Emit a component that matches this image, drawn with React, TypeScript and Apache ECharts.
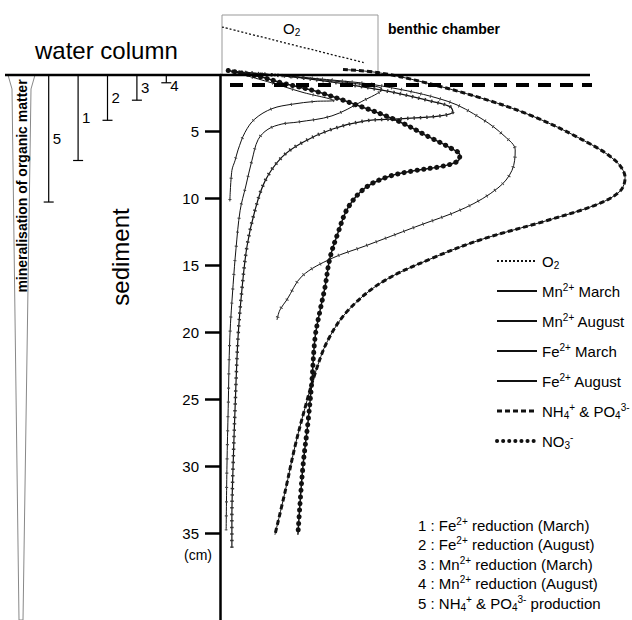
import React, { useEffect, useRef } from "react";
import * as echarts from "echarts";

const FONT = '"Liberation Sans", Arial, Helvetica, sans-serif';

// depth axis (cm, downward)
const depthTicks = [5, 10, 15, 20, 25, 30, 35];
const DEPTH_MIN = 0.82;
const DEPTH_MAX = 41.49;

// process zones drawn on the left: label and lower depth limit (cm)
const processLabels = ["5", "1", "2", "3", "4"];
const processDepths = [10.3, 7.2, 4.2, 2.7, 1.4];

// profiles: relative concentration (x) vs depth in cm (y)
const o2Conc = [0.5, 35.4];
const o2Depth = [-2.76, -0.08];

const mnMarchConc = [2.9, 12.2, 20.0, 27.6, 23.2, 17.6, 12.7, 8.5, 6.1, 4.4, 3.7, 2.9, 2.4];
const mnMarchDepth = [0.56, 1.37, 2.1, 2.72, 2.79, 3.0, 3.33, 4.1, 5.1, 6.41, 7.18, 7.95, 10.25];

const mnAugConc = [2.9, 15.1, 27.3, 35.4, 39.5, 34.6, 27.3, 19.0, 15.1, 11.7, 9.3, 7.8, 6.3, 4.9, 3.9, 3.2, 2.4, 2.0, 1.7, 1.5];
const mnAugDepth = [0.56, 0.87, 1.25, 1.56, 1.87, 2.79, 3.87, 4.33, 4.48, 4.87, 5.64, 7.18, 9.1, 10.95, 13.79, 16.47, 20.38, 25.7, 29.93, 34.8];

const feMarchConc = [2.9, 26.8, 39.5, 55.6, 63.9, 69.5, 72.0, 71.2, 67.8, 59.8, 47.6, 35.4, 27.3, 20.0, 16.3, 14.6, 13.9];
const feMarchDepth = [0.56, 1.18, 1.64, 2.79, 4.1, 5.41, 6.41, 7.95, 9.25, 10.73, 12.16, 13.58, 14.5, 15.83, 17.6, 18.36, 19.1];

const feAugConc = [2.9, 19.5, 39.5, 51.7, 56.1, 56.8, 53.7, 43.4, 35.4, 27.3, 20.0, 15.1, 11.0, 8.5, 6.6, 5.4, 4.4, 3.7, 3.2, 2.9, 2.9];
const feAugDepth = [0.56, 1.02, 1.95, 2.79, 3.18, 3.56, 3.87, 4.1, 4.25, 4.87, 5.87, 6.95, 8.72, 10.95, 13.58, 16.67, 20.38, 25.49, 29.93, 33.83, 36.1];

const nh4Conc = [30.0, 38.5, 49.3, 63.9, 76.1, 88.3, 96.3, 98.8, 97.6, 92.2, 80.0, 63.9, 51.7, 39.5, 31.2, 26.3, 23.2, 20.7, 18.3, 15.9, 13.4];
const nh4Depth = [0.41, 0.64, 1.33, 2.56, 3.87, 5.64, 7.18, 8.48, 9.48, 10.45, 11.66, 13.08, 14.5, 16.28, 18.4, 20.62, 23.08, 25.7, 28.52, 31.88, 35.13];

const no3Conc = [2.0, 9.8, 15.1, 23.2, 33.7, 43.4, 51.2, 56.1, 58.5, 58.0, 54.1, 47.6, 41.0, 35.4, 31.2, 28.8, 26.8, 25.6, 24.4, 23.2, 22.4, 21.5, 20.2, 19.0];
const no3Depth = [0.49, 0.95, 1.41, 2.02, 3.1, 4.25, 5.48, 6.25, 6.79, 7.25, 7.64, 7.95, 8.41, 9.25, 10.73, 12.58, 14.5, 16.67, 18.4, 20.38, 23.69, 26.62, 30.13, 35.13];

const legendNames = ["O2", "Mn2+ March", "Mn2+ August", "Fe2+ March", "Fe2+ August", "NH4+ & PO43-", "NO3-"];
const legendRich: Record<string, string> = {
  "O2": "O{sub|2}",
  "Mn2+ March": "Mn{sup|2+} March",
  "Mn2+ August": "Mn{sup|2+} August",
  "Fe2+ March": "Fe{sup|2+} March",
  "Fe2+ August": "Fe{sup|2+} August",
  "NH4+ & PO43-": "NH{sub|4}{sup|+} & PO{sub|4}{sup|3-}",
  "NO3-": "NO{sub|3}{sup|-}",
};

const noteLines = [
  "1 : Fe{sup|2+} reduction (March)",
  "2 : Fe{sup|2+} reduction (August)",
  "3 : Mn{sup|2+} reduction (March)",
  "4 : Mn{sup|2+} reduction (August)",
  "5 : NH{sub|4}{sup|+} & PO{sub|4}{sup|3-} production",
];

const pairs = (c: number[], d: number[]) => c.map((v, i) => [v, d[i]]);

const rich = {
  sup: { fontSize: 10, lineHeight: 10, verticalAlign: "top", fontFamily: FONT, fill: "#000", color: "#000" },
  sub: { fontSize: 10, lineHeight: 10, verticalAlign: "bottom", fontFamily: FONT, fill: "#000", color: "#000" },
};

function line(name: string, data: number[][], lineStyle: any) {
  return {
    type: "line",
    name,
    data,
    smooth: 0.35,
    symbol: "none",
    clip: false,
    silent: true,
    xAxisIndex: 0,
    yAxisIndex: 0,
    color: "#111",
    itemStyle: { color: "#111" },
    lineStyle: { color: "#111", width: 1, ...lineStyle },
  };
}

export default function App() {
  const ref = useRef<HTMLDivElement>(null);
  useEffect(() => {
    document.body.style.margin = "0";
    if (!ref.current) return;
    const chart = echarts.init(ref.current, null, { renderer: "svg" });

    const mnMarch = pairs(mnMarchConc, mnMarchDepth);
    const mnAug = pairs(mnAugConc, mnAugDepth);
    const feMarch = pairs(feMarchConc, feMarchDepth);
    const feAug = pairs(feAugConc, feAugDepth);
    const nh4 = pairs(nh4Conc, nh4Depth);
    const no3 = pairs(no3Conc, no3Depth);

    const noteY0 = 525;
    const noteGap = 19.5;

    chart.setOption({
      animation: false,
      backgroundColor: "#fff",
      grid: [
        { left: 220, top: 75, width: 410, height: 545 },
        { left: 34, top: 75, width: 147, height: 545 },
      ],
      xAxis: [
        { type: "value", gridIndex: 0, min: 0, max: 100, show: false },
        { type: "category", gridIndex: 1, data: processLabels, show: false },
      ],
      yAxis: [
        {
          type: "value",
          gridIndex: 0,
          inverse: true,
          min: DEPTH_MIN,
          max: DEPTH_MAX,
          axisLine: { show: true, onZero: false, lineStyle: { color: "#000", width: 2.5 } },
          axisTick: { show: true, length: 15, customValues: depthTicks, lineStyle: { color: "#000", width: 2.5 } },
          axisLabel: {
            show: true,
            customValues: depthTicks,
            margin: 21,
            fontSize: 15,
            fontFamily: FONT,
            color: "#000",
            formatter: (v: number) => (depthTicks.indexOf(v) >= 0 ? String(v) : ""),
          },
          splitLine: { show: false },
        },
        { type: "value", gridIndex: 1, inverse: true, min: DEPTH_MIN, max: DEPTH_MAX, show: false },
      ],
      legend: {
        orient: "vertical",
        left: 490,
        top: 247,
        itemWidth: 40,
        itemHeight: 10,
        itemGap: 12,
        data: legendNames.map((n) =>
          n === "NO3-"
            ? { name: n, lineStyle: { width: 4, type: [0.1, 6], cap: "round", color: "#111" } }
            : n === "NH4+ & PO43-"
            ? { name: n, lineStyle: { width: 3, type: [5, 3], color: "#111" } }
            : { name: n }
        ),
        itemStyle: { opacity: 0 },
        formatter: (n: string) => legendRich[n] || n,
        textStyle: { fontSize: 15, lineHeight: 18, fontFamily: FONT, color: "#000", rich },
        selectedMode: false,
      },
      series: [
        line("O2", pairs(o2Conc, o2Depth), { type: [2, 2], width: 1.3 }),
        line("Mn2+ March", mnMarch, { width: 1 }),
        line("_mnMarchTicks", mnMarch, { width: 3, type: [1, 20], color: "#444" }),
        line("Mn2+ August", mnAug, { width: 1 }),
        line("_mnAugTicks", mnAug, { width: 3, type: [1.2, 13], color: "#444" }),
        line("Fe2+ March", feMarch, { width: 1 }),
        line("_feMarchTicks", feMarch, { width: 3.5, type: [1, 9], color: "#444" }),
        line("Fe2+ August", feAug, { width: 1.2 }),
        line("_feAugTicks", feAug, { width: 3.5, type: [1.5, 5], color: "#333" }),
        line("_nh4Base", nh4, { width: 1 }),
        line("NH4+ & PO43-", nh4, { width: 3, type: [5, 3], color: "#111" }),
        line("_no3Base", no3, { width: 1.5 }),
        line("NO3-", no3, { width: 5, type: [0.1, 6.5], cap: "round", color: "#111" }),
        {
          type: "custom",
          name: "processes",
          xAxisIndex: 1,
          yAxisIndex: 1,
          silent: true,
          data: processDepths.map((d, i) => [i, d]),
          renderItem: (params: any, api: any) => {
            const idx = api.value(0);
            const bottom = api.coord([idx, api.value(1)]);
            const top = api.coord([idx, DEPTH_MIN]);
            const x = bottom[0];
            const labelY = Math.max((top[1] + bottom[1]) / 2, top[1] + 10);
            return {
              type: "group",
              children: [
                { type: "line", shape: { x1: x, y1: top[1], x2: x, y2: bottom[1] }, style: { stroke: "#000", lineWidth: 1.2 } },
                { type: "line", shape: { x1: x - 5, y1: bottom[1], x2: x + 5, y2: bottom[1] }, style: { stroke: "#000", lineWidth: 1.2 } },
                {
                  type: "text",
                  x: x + 4,
                  y: labelY,
                  style: { text: processLabels[params.dataIndex], fontSize: 15, fontFamily: FONT, fill: "#000", align: "left", verticalAlign: "middle" },
                },
              ],
            };
          },
        },
      ],
      graphic: [
        { type: "line", z: 10, shape: { x1: 5, y1: 75, x2: 590, y2: 75 }, style: { stroke: "#000", lineWidth: 2.5 } },
        { type: "line", z: 10, shape: { x1: 230, y1: 85, x2: 592, y2: 85 }, style: { stroke: "#000", lineWidth: 4, lineDash: [13, 9] } },
        { type: "rect", shape: { x: 222, y: 15, width: 156, height: 60 }, style: { fill: "none", stroke: "#999", lineWidth: 1 } },
        {
          type: "text", x: 283, y: 28,
          style: { text: "O{sub|2}", fontSize: 15, fontFamily: FONT, fill: "#000", align: "left", verticalAlign: "middle", lineHeight: 18, rich },
        },
        {
          type: "text", x: 388, y: 29,
          style: { text: "benthic chamber", fontSize: 14, fontWeight: "bold", fontFamily: FONT, fill: "#000", align: "left", verticalAlign: "middle" },
        },
        {
          type: "text", x: 35, y: 50,
          style: { text: "water column", fontSize: 24, fontFamily: FONT, fill: "#000", align: "left", verticalAlign: "middle" },
        },
        {
          type: "text", x: 120, y: 257, rotation: Math.PI / 2,
          style: { text: "sediment", fontSize: 24, fontFamily: FONT, fill: "#000", align: "center", verticalAlign: "middle" },
        },
        {
          type: "polygon",
          shape: { points: [[8, 75], [35, 75], [31, 89], [23, 620], [19, 620], [12, 89]] },
          style: { fill: "none", stroke: "#888", lineWidth: 1 },
        },
        {
          type: "text", x: 22, y: 186, rotation: Math.PI / 2,
          style: { text: "mineralisation of organic matter", fontSize: 14, fontWeight: "bold", fontFamily: FONT, fill: "#000", align: "center", verticalAlign: "middle" },
        },
        {
          type: "text", x: 184, y: 555,
          style: { text: "(cm)", fontSize: 14, fontFamily: FONT, fill: "#000", align: "left", verticalAlign: "middle" },
        },
        ...noteLines.map((t, i) => ({
          type: "text",
          x: 418,
          y: noteY0 + i * noteGap,
          style: { text: t, fontSize: 15, lineHeight: 18, fontFamily: FONT, fill: "#000", align: "left", verticalAlign: "middle", rich },
        })),
      ],
    });
    return () => chart.dispose();
  }, []);
  return <div ref={ref} style={{ width: 632, height: 620 }} />;
}
